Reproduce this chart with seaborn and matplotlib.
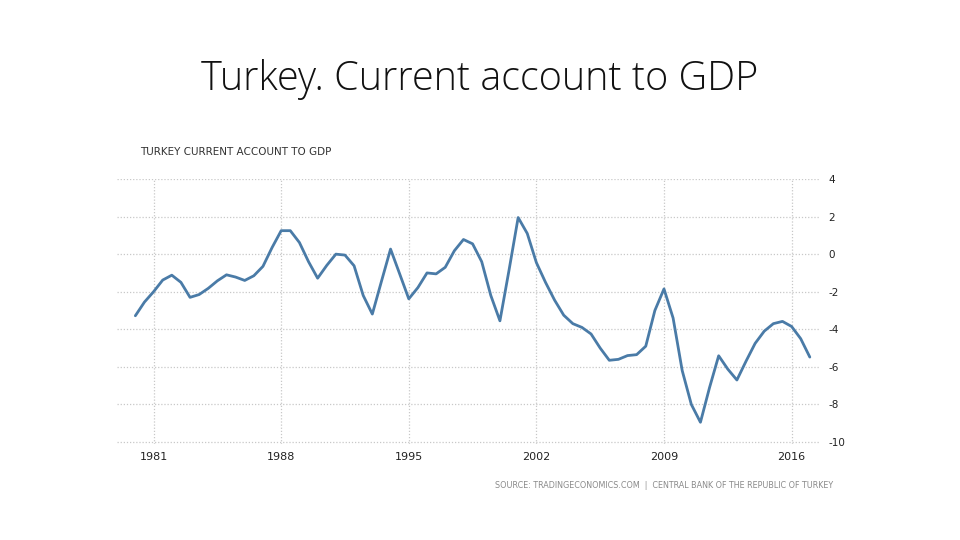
import numpy as np
import pandas as pd
import matplotlib
matplotlib.use("Agg")
import matplotlib.pyplot as plt
import seaborn as sns

# half-year readings of the current account balance, % of GDP
years = [1980.0, 1980.5, 1981.0, 1981.5, 1982.0, 1982.5, 1983.0, 1983.5, 1984.0, 1984.5,
         1985.0, 1985.5, 1986.0, 1986.5, 1987.0, 1987.5, 1988.0, 1988.5, 1989.0, 1989.5,
         1990.0, 1990.5, 1991.0, 1991.5, 1992.0, 1992.5, 1993.0, 1993.5, 1994.0, 1994.5,
         1995.0, 1995.5, 1996.0, 1996.5, 1997.0, 1997.5, 1998.0, 1998.5, 1999.0, 1999.5,
         2000.0, 2000.5, 2001.0, 2001.5, 2002.0, 2002.5, 2003.0, 2003.5, 2004.0, 2004.5,
         2005.0, 2005.5, 2006.0, 2006.5, 2007.0, 2007.5, 2008.0, 2008.5, 2009.0, 2009.5,
         2010.0, 2010.5, 2011.0, 2011.5, 2012.0, 2012.5, 2013.0, 2013.5, 2014.0, 2014.5,
         2015.0, 2015.5, 2016.0, 2016.5, 2017.0]
ca_gdp = [-3.28, -2.55, -2.0, -1.38, -1.12, -1.5, -2.3, -2.15, -1.82, -1.42,
          -1.1, -1.22, -1.4, -1.15, -0.65, 0.35, 1.25, 1.25, 0.62, -0.4,
          -1.28, -0.6, 0.0, -0.05, -0.62, -2.2, -3.19, -1.45, 0.27, -1.05,
          -2.38, -1.78, -1.0, -1.05, -0.7, 0.18, 0.78, 0.55, -0.4, -2.2,
          -3.55, -0.85, 1.95, 1.1, -0.45, -1.5, -2.45, -3.25, -3.7, -3.9,
          -4.25, -5.0, -5.65, -5.6, -5.4, -5.35, -4.9, -3.0, -1.85, -3.4,
          -6.2, -8.0, -8.95, -7.1, -5.41, -6.12, -6.7, -5.7, -4.75, -4.1,
          -3.7, -3.58, -3.85, -4.5, -5.48]

tick_years = [1981, 1988, 1995, 2002, 2009, 2016]
y_ticks = [4, 2, 0, -2, -4, -6, -8, -10]

df = pd.DataFrame({"year": years, "value": ca_gdp})

sns.set_style("white")
plt.rcParams['font.family'] = ['DejaVu Sans']

fig = plt.figure(figsize=(9.6, 5.4), dpi=100)
ax = fig.add_axes([0.122, 0.1787, 0.732, 0.4898])

sns.lineplot(data=df, x="year", y="value", ax=ax, color="#4a7ba7", linewidth=2.0)
for ln in ax.lines:
    ln.set_solid_joinstyle("round")
    ln.set_solid_capstyle("round")

ax.set_xlim(1979.0, 2017.55)
ax.set_ylim(-10.08, 4)
ax.set_xticks(tick_years)
ax.set_xticklabels([str(y) for y in tick_years], fontsize=8, color="#222222")
ax.set_yticks(y_ticks)
ax.set_yticklabels([str(y) for y in y_ticks], fontsize=7.5, color="#222222")
ax.yaxis.tick_right()
ax.tick_params(axis="y", length=0, pad=6)
ax.tick_params(axis="x", length=0, pad=6)
ax.grid(True, linestyle=(0, (1, 1.5)), color="#c8c8c8", linewidth=0.9)
ax.set_axisbelow(True)
ax.set_xlabel("")
ax.set_ylabel("")
for s in ax.spines.values():
    s.set_visible(False)

fig.text(0.5, 0.852, "Turkey. Current account to GDP", ha="center", va="center",
         fontsize=28.5, color="#111111", family=["Open Sans", "DejaVu Sans"], fontweight="light")
fig.text(0.146, 0.718, "TURKEY CURRENT ACCOUNT TO GDP", ha="left", va="center",
         fontsize=7.5, color="#333333")
fig.text(0.868, 0.1, "SOURCE: TRADINGECONOMICS.COM  |  CENTRAL BANK OF THE REPUBLIC OF TURKEY",
         ha="right", va="center", fontsize=5.8, color="#8a8a8a")

fig.savefig("out.png", dpi=100)
